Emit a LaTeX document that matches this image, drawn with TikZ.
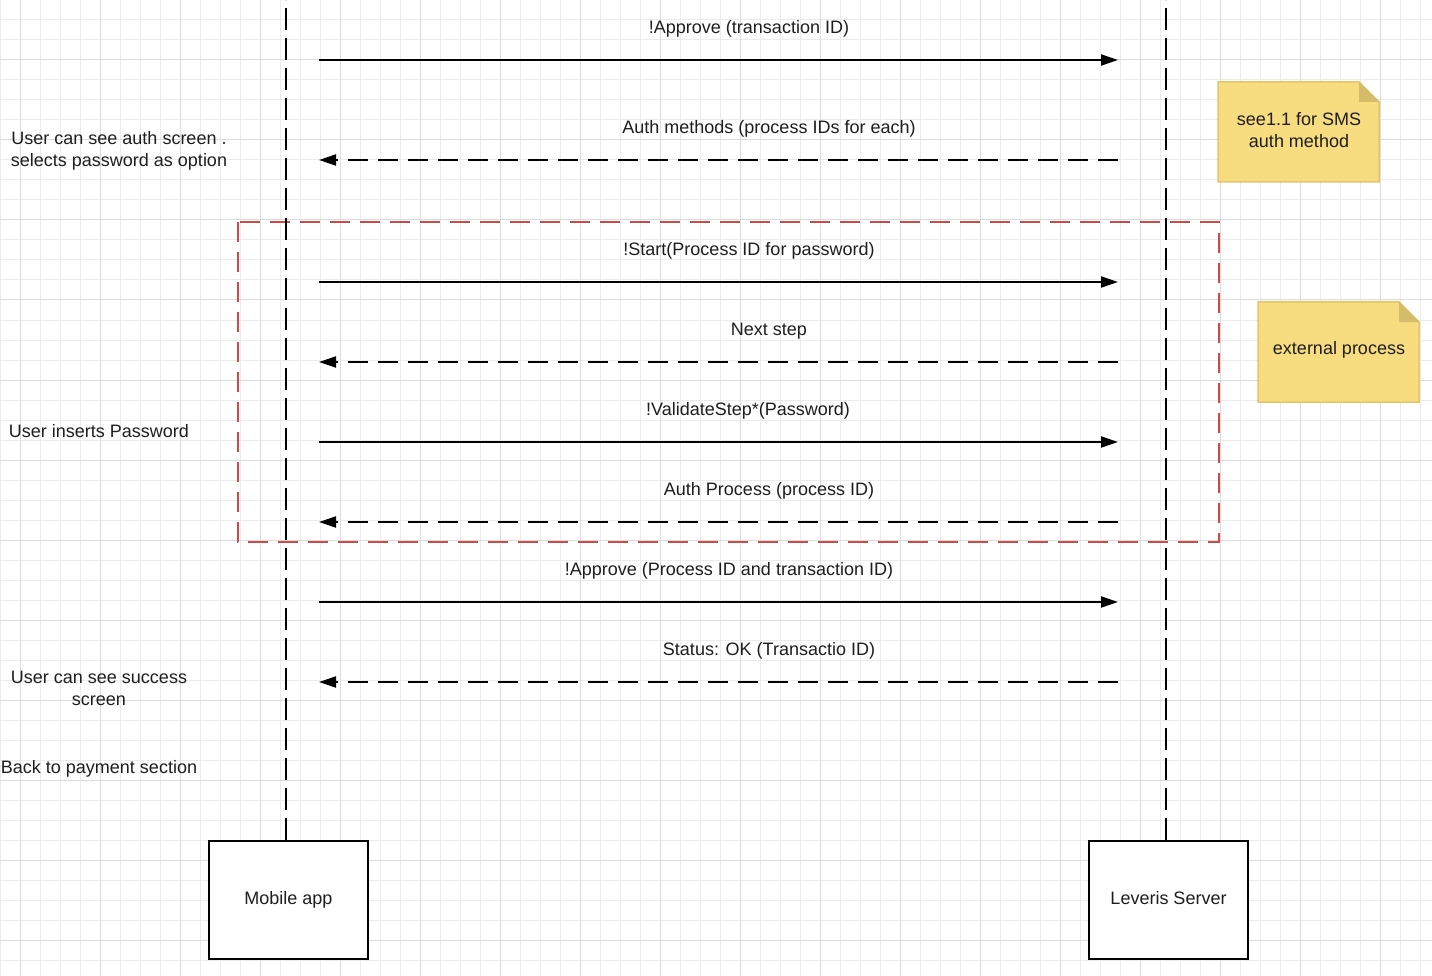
\documentclass[tikz,border=0pt]{standalone}
\usepackage{fontspec}
\setmainfont{Liberation Sans}
\usetikzlibrary{arrows.meta}

\definecolor{gridminor}{HTML}{EBEBEB}
\definecolor{gridmajor}{HTML}{DCDCDC}
\definecolor{notefill}{HTML}{F8DC80}
\definecolor{noteline}{HTML}{E2C56C}
\definecolor{notefold}{HTML}{D5BC6A}
\definecolor{procred}{HTML}{CC4A4A}
\definecolor{txtgray}{HTML}{1E1E1E}

\tikzset{
    minorline/.style={gridminor, line width=1pt},
    majorline/.style={gridmajor, line width=1pt},
    lifeline/.style={black, line width=2pt, dash pattern=on 22pt off 8pt},
    call/.style={black, line width=2pt, -{Triangle[length=17pt,width=11pt]}},
    reply/.style={call, dash pattern=on 20pt off 10pt},
    actor/.style={draw=black, fill=white, line width=2pt, minimum width=159pt, minimum height=118pt,
                  text height=13pt, text depth=4pt},
    procbox/.style={procred, line width=2pt, dash pattern=on 20pt off 10pt},
    note/.style={fill=notefill, draw=noteline, line width=1.5pt},
    fold/.style={fill=notefold},
    msglabel/.style={inner sep=0pt},
    sidelabel/.style={align=center, inner sep=0pt}
}

\begin{document}
\begin{tikzpicture}[x=1pt, y=-1pt, font=\fontsize{18}{22}\selectfont, text=txtgray]
    \useasboundingbox (0,0) rectangle (1432,976);
    \fill[white] (0,0) rectangle (1432,976);

    % background grid
    \foreach \gx in {0,20,...,1420}
        \draw[minorline] (\gx,0) -- (\gx,976);
    \foreach \gy in {0,20,...,960}
        \draw[minorline] (0,\gy) -- (1432,\gy);
    \foreach \gx in {20,100,...,1420}
        \draw[majorline] (\gx,0) -- (\gx,976);
    \foreach \gy in {60,140,...,940}
        \draw[majorline] (0,\gy) -- (1432,\gy);

    % password sub-process
    \draw[procbox] (238,222) rectangle (1219,542);

    % participants
    \node[actor] (mob) at (288.5,900) {Mobile app};
    \node[actor] (lev) at (1168.5,900) {Leveris Server};
    \coordinate (mobtop) at (286,0);
    \coordinate (levtop) at (1166,0);
    \draw[lifeline] (mobtop |- mob.north) -- (mobtop);
    \draw[lifeline] (levtop |- lev.north) -- (levtop);

    % requests (app -> server)
    \foreach \i/\y/\lx/\txt in {1/60/749/{!Approve (transaction ID)},
                                3/282/749/{!Start(Process ID for password)},
                                5/442/748/{!ValidateStep*(Password)},
                                7/602/729/{!Approve (Process ID and transaction ID)}}
    {
        \coordinate (a\i) at (319,\y);
        \coordinate (b\i) at (1118,\y);
        \draw[call] (a\i) -- (b\i);
        \node[msglabel] (l\i) at (\lx,\y-31) {\txt};
    }

    % responses (server -> app)
    \foreach \i/\y/\txt in {2/160/{Auth methods (process IDs for each)},
                            4/362/{Next step},
                            6/522/{Auth Process (process ID)},
                            8/682/{Status: OK (Transactio ID)}}
    {
        \coordinate (a\i) at (319,\y);
        \coordinate (b\i) at (1118,\y);
        \draw[reply] (b\i) -- (a\i);
        \node[msglabel] (l\i) at (769,\y-31) {\txt};
    }

    % user side notes
    \node[sidelabel] (u1) at (119,151) {User can see auth screen .\\selects password as option};
    \node[sidelabel] (u2) at (99,431) {User inserts Password};
    \node[sidelabel] (u3) at (99,688) {User can see success\\screen};
    \node[sidelabel] (u4) at (99,769) {Back to payment section};

    % sticky notes
    \draw[note] (1218,82) -- (1359,82) -- (1379,102) -- (1379,182) -- (1218,182) -- cycle;
    \fill[fold] (1359,82) -- (1379,102) -- (1359,102) -- cycle;
    \node[sidelabel] (n1) at (1299,130) {see1.1 for SMS\\auth method};

    \draw[note] (1258,302) -- (1399,302) -- (1419,322) -- (1419,402) -- (1258,402) -- cycle;
    \fill[fold] (1399,302) -- (1419,322) -- (1399,322) -- cycle;
    \node[sidelabel] (n2) at (1339,350) {external process};
\end{tikzpicture}
\end{document}
